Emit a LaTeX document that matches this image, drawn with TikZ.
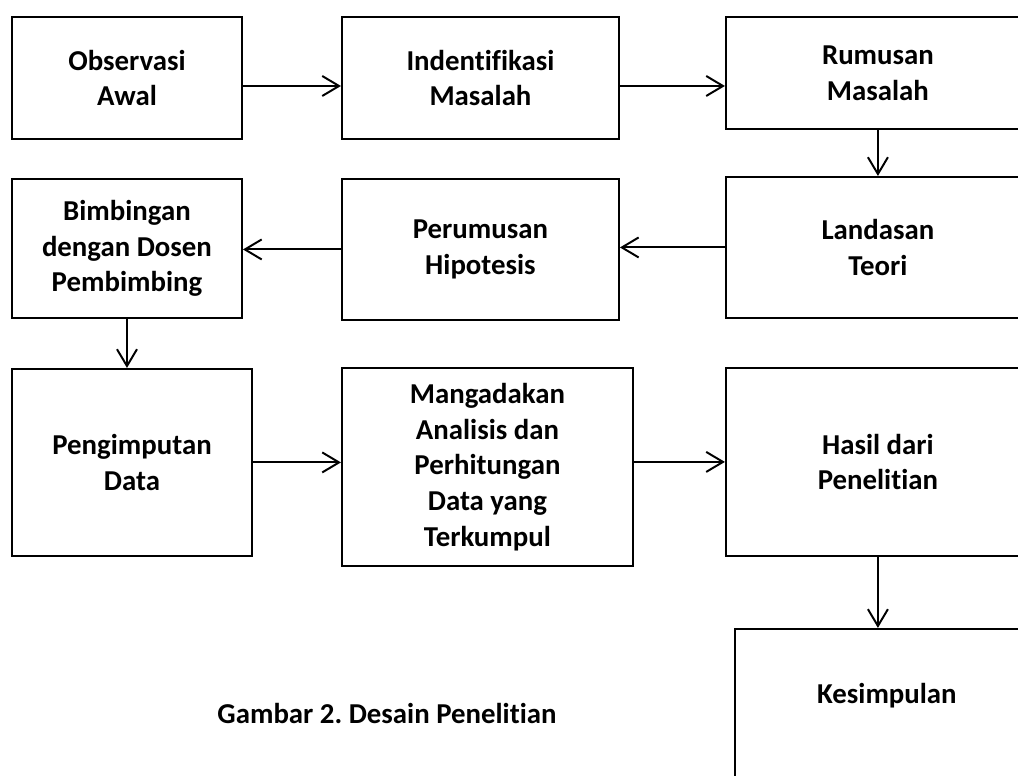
\documentclass[tikz,border=0pt]{standalone}
\usepackage{fontspec}
\setmainfont{Carlito}[Ligatures=NoCommon]
\usepackage{tikz}
\usetikzlibrary{positioning, arrows.meta}
\frenchspacing

\begin{document}
\begin{tikzpicture}[node distance = 1cm, line width = 1.4pt]
            \tikzstyle{box} = [rectangle, draw=black, align=center, inner sep=0pt, font=\fontsize{20.5}{25.4}\selectfont\bfseries]
            \tikzstyle{arr} = [-{Straight Barb[length=0.42cm, width=0.5cm]}]
            \clip (0, 0) rectangle (25.45, -19.4);
            \useasboundingbox (0, 0) rectangle (25.45, -19.4);

            \node [box, minimum width=5.75cm, minimum height=3.05cm, anchor=north west] (obs) at (0.275, -0.4) {Observasi\\Awal};
            \node [box, minimum width=6.925cm, minimum height=3.05cm, right = 2.45cm of obs.north east, anchor=north west] (ident) {Indentifikasi\\Masalah};
            \node [box, minimum width=7.6cm, minimum height=2.8cm, right = 2.625cm of ident.north east, anchor=north west] (rum) {Rumusan\\Masalah};

            \node [box, minimum width=7.6cm, minimum height=3.525cm, below = 1.15cm of rum.south west, anchor=north west] (land) {Landasan\\Teori};
            \node [box, minimum width=6.925cm, minimum height=3.525cm, below = 0.95cm of ident.south west, anchor=north west] (peru) {Perumusan\\Hipotesis};
            \node [box, minimum width=5.75cm, minimum height=3.475cm, below = 0.95cm of obs.south west, anchor=north west] (bim) {Bimbingan\\dengan Dosen\\Pembimbing};

            \node [box, minimum width=6cm, minimum height=4.675cm, below = 1.225cm of bim.south west, anchor=north west] (peng) {Pengimputan\\Data};
            \node [box, minimum width=7.275cm, minimum height=4.95cm, below = 1.15cm of peru.south west, anchor=north west] (mang) {Mangadakan\\Analisis dan\\Perhitungan\\Data yang\\Terkumpul};
            \node [box, minimum width=7.6cm, minimum height=4.7cm, below = 1.2cm of land.south west, anchor=north west] (hasil) {Hasil dari\\Penelitian};

            \node [box, minimum width=7.6cm, text height=1.875cm, text depth=4.3cm, below = 1.775cm of hasil.south west, anchor=north west, xshift=0.225cm] (kes) {Kesimpulan};

            \node [font=\fontsize{20.5}{25.4}\selectfont\bfseries, anchor=base] (cap) at (9.675, -18.075) {Gambar 2. Desain Penelitian};

            \draw [arr] ([yshift=-0.2cm]obs.east) to ([yshift=-0.2cm]obs.east -| ident.west);
            \draw [arr] ([yshift=-0.2cm]ident.east) to ([yshift=-0.2cm]ident.east -| rum.west);
            \draw [arr] (rum.south) to (land.north);
            \draw [arr] (land.west) to (land.west -| peru.east);
            \draw [arr] (peru.west) to (peru.west -| bim.east);
            \draw [arr] (bim.south) to (bim.south |- peng.north);
            \draw [arr] (peng.east) to (peng.east -| mang.west);
            \draw [arr] (hasil.west -| mang.east) to (hasil.west);
            \draw [arr] (hasil.south) to (hasil.south |- kes.north);
        \end{tikzpicture}
\end{document}
